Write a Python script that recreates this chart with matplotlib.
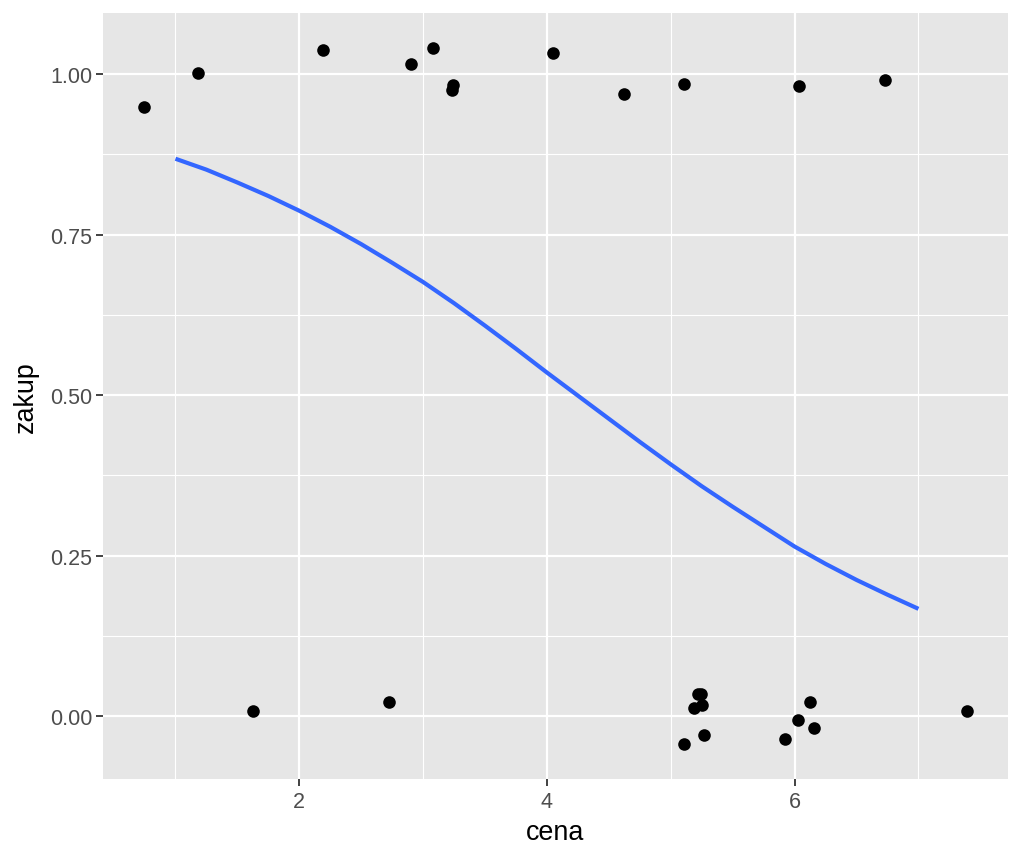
import matplotlib
matplotlib.use("Agg")
import matplotlib.pyplot as plt
from matplotlib.ticker import MultipleLocator, FormatStrFormatter

# jittered observations (cena vs zakup)
cena_pts = [0.747, 1.184, 2.192, 2.903, 3.083, 3.241, 3.236, 4.051, 4.622, 5.105, 6.038, 6.730,
            1.624, 2.723, 5.105, 5.191, 5.217, 5.245, 5.255, 5.265, 5.925, 6.027, 6.124, 6.156, 7.389]
zakup_pts = [0.949, 1.002, 1.037, 1.016, 1.041, 0.983, 0.975, 1.032, 0.969, 0.984, 0.982, 0.991,
             0.008, 0.022, -0.044, 0.012, 0.034, 0.034, 0.017, -0.030, -0.036, -0.006, 0.022, -0.018, 0.008]

# logistic fit curve
curve_x = [1.0, 1.25, 1.5, 1.75, 2.0, 2.25, 2.5, 2.75, 3.0, 3.25, 3.5, 3.75, 4.0,
           4.25, 4.5, 4.75, 5.0, 5.25, 5.5, 5.75, 6.0, 6.25, 6.5, 6.75, 7.0]
curve_y = [0.868, 0.851, 0.831, 0.810, 0.787, 0.762, 0.735, 0.706, 0.676, 0.643, 0.608, 0.572, 0.535,
           0.499, 0.463, 0.427, 0.392, 0.358, 0.326, 0.295, 0.264, 0.237, 0.212, 0.189, 0.167]

plt.rcParams['font.family'] = ['Liberation Sans', 'DejaVu Sans']

fig = plt.figure(figsize=(10.24, 8.53), dpi=100)
ax = fig.add_axes([0.1006, 0.0856, 0.8834, 0.898])
ax.set_facecolor('#E6E6E6')
for s in ax.spines.values():
    s.set_visible(False)

ax.xaxis.set_major_locator(MultipleLocator(2))
ax.xaxis.set_minor_locator(MultipleLocator(1))
ax.yaxis.set_major_locator(MultipleLocator(0.25))
ax.yaxis.set_minor_locator(MultipleLocator(0.125))
ax.grid(which='major', color='white', linewidth=1.6)
ax.grid(which='minor', color='white', linewidth=0.8)
ax.set_axisbelow(True)

ax.scatter(cena_pts, zakup_pts, s=82, color='black', zorder=3, linewidths=0)
ax.plot(curve_x, curve_y, color='#3366FF', linewidth=3.0, zorder=4, solid_capstyle='butt')

ax.set_xlim(0.415, 7.72)
ax.set_ylim(-0.098, 1.095)
ax.yaxis.set_major_formatter(FormatStrFormatter('%.2f'))

ax.tick_params(which='major', length=5, width=1.3, color='#333333', labelcolor='#4D4D4D',
               labelsize=15.5, pad=2.5)
ax.tick_params(axis='x', which='major', pad=4)
ax.tick_params(which='minor', length=0)

ax.set_xlabel('cena', fontsize=19.4, color='black', labelpad=5)
ax.set_ylabel('zakup', fontsize=19.4, color='black', labelpad=8)

fig.savefig('out.png', dpi=100)
